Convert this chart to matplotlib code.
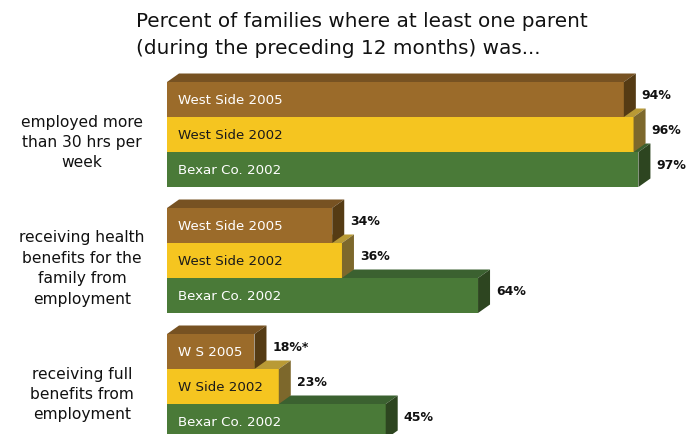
import matplotlib
matplotlib.use("Agg")
import matplotlib.pyplot as plt
from matplotlib.patches import Polygon

# ---- data ----
categories = [
    "employed more\nthan 30 hrs per\nweek",
    "receiving health\nbenefits for the\nfamily from\nemployment",
    "receiving full\nbenefits from\nemployment",
]
series_names = [
    ["West Side 2005", "West Side 2002", "Bexar Co. 2002"],
    ["West Side 2005", "West Side 2002", "Bexar Co. 2002"],
    ["W S 2005", "W Side 2002", "Bexar Co. 2002"],
]
values = [
    [94, 96, 97],
    [34, 36, 64],
    [18, 23, 45],
]
value_labels = [
    ["94%", "96%", "97%"],
    ["34%", "36%", "64%"],
    ["18%*", "23%", "45%"],
]
title_lines = ["Percent of families where at least one parent",
               "(during the preceding 12 months) was..."]

# ---- styles ----
front_colors = ["#9b6b2a", "#f5c520", "#4a7a38"]
top_colors = ["#775222", "#b99a35", "#3b6130"]
side_colors = ["#553b14", "#7d682c", "#2d4520"]
text_colors = ["white", "#1a1a1a", "white"]

W, H = 696, 434
fig = plt.figure(figsize=(W / 100, H / 100), dpi=100)
ax = fig.add_axes([0, 0, 1, 1])
px_per_unit_x = 4.86
x0_px = 167
ax.set_xlim(-x0_px / px_per_unit_x, (W - x0_px) / px_per_unit_x)
bar_px = 35.0
ax.set_ylim(H / bar_px, 0)
ax.axis("off")

group_step = 126 / bar_px
first_center = 99.5 / bar_px
dx = 12 / px_per_unit_x
dy = 8.5 / bar_px

for g, (vals, names, vlabs) in enumerate(zip(values, series_names, value_labels)):
    base = first_center + g * group_step
    for i, (v, name, vl) in enumerate(zip(vals, names, vlabs)):
        c = base + i
        top, bot = c - 0.5, c + 0.5
        z = 10 - i
        ax.barh(c, v, height=1.0, left=0, color=front_colors[i], zorder=z + 0.5,
                linewidth=0)
        ax.add_patch(Polygon([(0, top), (v, top), (v + dx, top - dy), (dx, top - dy)],
                             closed=True, facecolor=top_colors[i], edgecolor="none",
                             zorder=z))
        ax.add_patch(Polygon([(v, top), (v, bot), (v + dx, bot - dy), (v + dx, top - dy)],
                             closed=True, facecolor=side_colors[i], edgecolor="none",
                             zorder=z + 0.5))
        ax.text(2.3, c + 0.02, name, color=text_colors[i], fontsize=9.6,
                family="DejaVu Sans", va="center", ha="left", zorder=20)
        ax.text(v + dx + 1.2, c - 0.12, vl, color="#111111", fontsize=9,
                fontweight="bold", family="DejaVu Sans", va="center", ha="left",
                zorder=20)
    ax.text((82 - x0_px) / px_per_unit_x, base + 1 + 0.23, categories[g],
            ha="center", va="center", fontsize=11.2, family="DejaVu Sans",
            color="#111111", linespacing=1.45, zorder=20)

for k, (line, base_px) in enumerate(zip(title_lines, [27, 54])):
    fig.text(136 / W, 1 - base_px / H, line, ha="left", va="baseline",
             fontsize=14.4, family="DejaVu Sans", color="#111111")

fig.savefig("out.png", dpi=100)
